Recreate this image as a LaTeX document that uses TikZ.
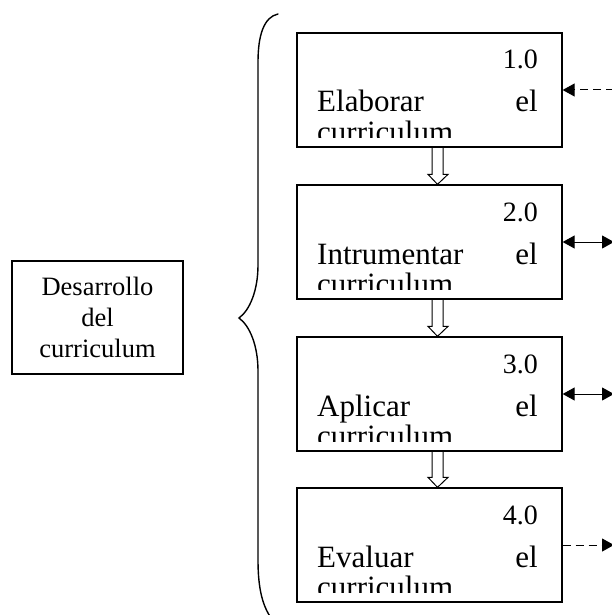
\documentclass[tikz,border=0pt]{standalone}
\usepackage{fontspec}
\setmainfont{Liberation Serif}
\usetikzlibrary{arrows.meta,calc}
\begin{document}
\begin{tikzpicture}[x=1pt,y=-1pt,
  mainbox/.style={draw, line width=1.3pt, minimum width=171pt, minimum height=113pt,
    inner sep=0pt, align=center, font=\fontsize{26.5}{31}\selectfont},
  stepbox/.style={draw, line width=1.3pt, minimum width=265pt, minimum height=114pt, inner sep=0pt},
  numtext/.style={inner sep=0pt, anchor=base east, font=\fontsize{28}{30}\selectfont},
  steptext/.style={inner sep=0pt, font=\fontsize{31}{33}\selectfont},
  hollow/.style={line width=1pt, line join=miter},
  headtip/.tip={Triangle[length=12pt,width=13pt]},
  dashlink/.style={line width=1pt, dash pattern=on 8pt off 5pt},
  solidlink/.style={line width=1pt},
  brace/.style={line width=1.4pt, line cap=round}
]
\useasboundingbox (0,0) rectangle (611,615);

% overall process
\node[mainbox] (main) at (97.5,317.5) {Desarrollo\\del\\curriculum};

% the four stages
\foreach \i/\T/\w in {1/33/Elaborar, 2/185/Intrumentar, 3/337/Aplicar, 4/488/Evaluar}{
  \node[stepbox] (b\i) at (429.5,\T+57) {};
  \node[numtext] (n\i) at (538,\T+36) {\i.0};
  \node[steptext, anchor=base west] (v\i) at (317,\T+79) {\w};
  \node[steptext, anchor=base east] (a\i) at (538,\T+79) {el};
  \begin{scope}
    \clip (297,\T) rectangle (562,\T+104);
    \node[steptext, anchor=base west] (c\i) at (317,\T+109) {curriculum};
  \end{scope}
  \coordinate (r\i) at (614,\T+57);
}

% hollow arrows between consecutive stages
\foreach \i/\j in {1/2, 2/3, 3/4}{
  \draw[hollow] ($(b\i.south)+(2.5,0)$) -- ($(b\j.north)+(2.5,-10)$)
    -- ($(b\j.north)+(-1.5,-10)$) -- ($(b\j.north)+(8,0)$)
    -- ($(b\j.north)+(18.5,-10)$) -- ($(b\j.north)+(13.5,-10)$)
    -- ($(b\i.south)+(13.5,0)$);
}

% links on the right side
\draw[dashlink, -{headtip}] (r1) -- (b1.east);
\draw[solidlink, {headtip}-{headtip}] (b2.east) -- (r2);
\draw[solidlink, {headtip}-{headtip}] (b3.east) -- (r3);
\draw[dashlink, -{headtip}] (b4.east) -- (r4);

% curly brace grouping the stages
\draw[brace] (278,14) .. controls (264,17) and (258,35) .. (258,62)
  -- (258,265) .. controls (258,290) and (250,310) .. (239,318)
  .. controls (250,326) and (258,346) .. (258,371)
  -- (258,560) .. controls (258,590) and (263,606) .. (271,618);
\end{tikzpicture}
\end{document}
